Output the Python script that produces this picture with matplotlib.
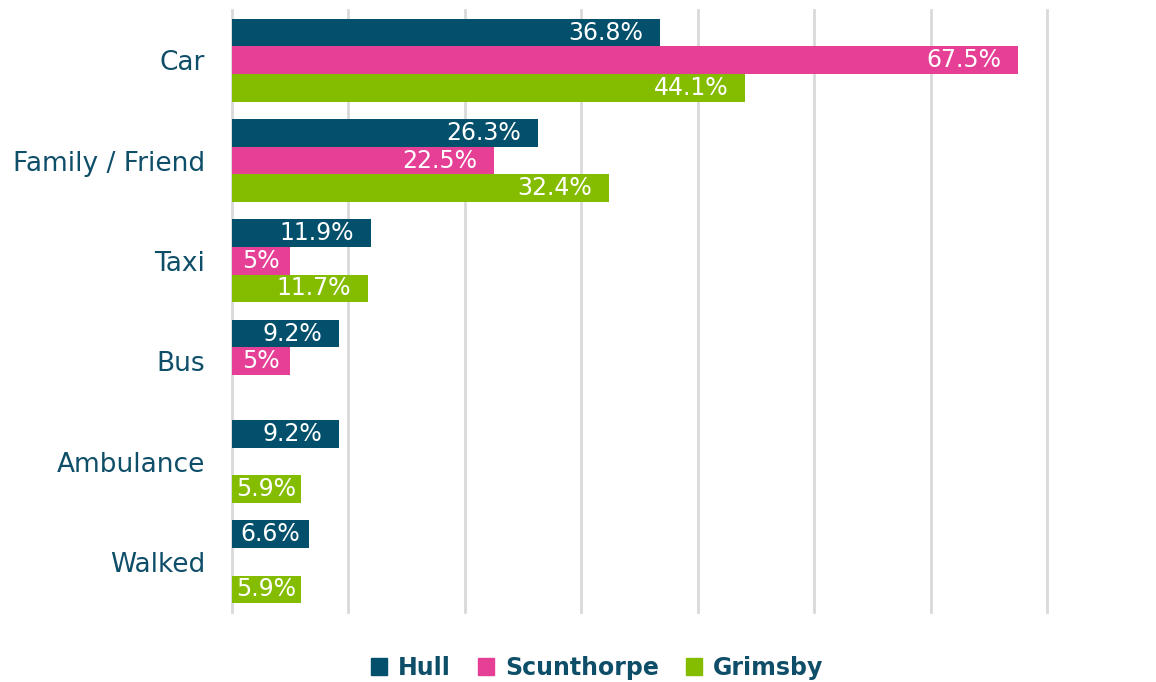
import numpy as np
import matplotlib
matplotlib.use("Agg")
import matplotlib.pyplot as plt
from matplotlib.patches import Patch

categories = ["Car", "Family / Friend", "Taxi", "Bus", "Ambulance", "Walked"]
series_names = ["Hull", "Scunthorpe", "Grimsby"]
hull = [36.8, 26.3, 11.9, 9.2, 9.2, 6.6]
scunthorpe = [67.5, 22.5, 5.0, 5.0, np.nan, np.nan]
grimsby = [44.1, 32.4, 11.7, np.nan, 5.9, 5.9]
label_text = {
    "Hull": ["36.8%", "26.3%", "11.9%", "9.2%", "9.2%", "6.6%"],
    "Scunthorpe": ["67.5%", "22.5%", "5%", "5%", "", ""],
    "Grimsby": ["44.1%", "32.4%", "11.7%", "", "5.9%", "5.9%"],
}
colors = ["#02506B", "#E54096", "#84BD00"]
text_color = "#0F4E68"

plt.rcParams["font.family"] = ["DejaVu Sans"]

fig = plt.figure(figsize=(11.56, 6.82), dpi=100)
ax = fig.add_axes([232 / 1156, 1 - 612 / 682, (1047 - 232) / 1156, (612 - 10) / 682])

ax.set_xlim(0, 70)
ax.set_ylim(len(categories) - 0.5, -0.5)

y = np.arange(len(categories))
h = 0.275
labels = []
for k, (name, vals, col) in enumerate(zip(series_names, [hull, scunthorpe, grimsby], colors)):
    pos = y + (k - 1) * h
    v = np.array(vals, dtype=float)
    bars = ax.barh(pos, np.nan_to_num(v), height=h, color=col, zorder=3)
    for b, val, txt in zip(bars, v, label_text[name]):
        if np.isnan(val) or not txt:
            continue
        t = ax.text(b.get_width() - 1.45, b.get_y() + b.get_height() / 2, txt,
                    ha="right", va="center", color="white", fontsize=17, zorder=4)
        labels.append((t, b))

# labels that would not fit at the inside end are centred in their bar
renderer = fig.canvas.get_renderer()
x0_px = ax.transData.transform((0, 0))[0]
for t, b in labels:
    bb = t.get_window_extent(renderer)
    if bb.x0 < x0_px + 8:
        t.set_ha("center")
        t.set_position((b.get_width() / 2, t.get_position()[1]))

ax.set_xticks(np.arange(0, 71, 10))
ax.set_xticklabels([])
ax.set_yticks(y)
ax.set_yticklabels(categories, fontsize=19, color=text_color)
ax.tick_params(axis="both", length=0, pad=19.5)
ax.grid(axis="x", color="#D9D9D9", linewidth=2, zorder=0)
for gl in ax.get_xgridlines():
    gl.set_clip_on(False)
for s in ax.spines.values():
    s.set_visible(False)

handles = [Patch(facecolor=c, edgecolor=c) for c in colors]
leg = fig.legend(handles, series_names, loc="center", bbox_to_anchor=(597 / 1156, 1 - 668 / 682),
                 ncol=3, frameon=False, handlelength=0.7, handleheight=0.7,
                 handletextpad=0.45, columnspacing=1.15,
                 prop={"weight": "bold", "size": 17})
for t in leg.get_texts():
    t.set_color(text_color)

fig.savefig("out.png", dpi=100)
